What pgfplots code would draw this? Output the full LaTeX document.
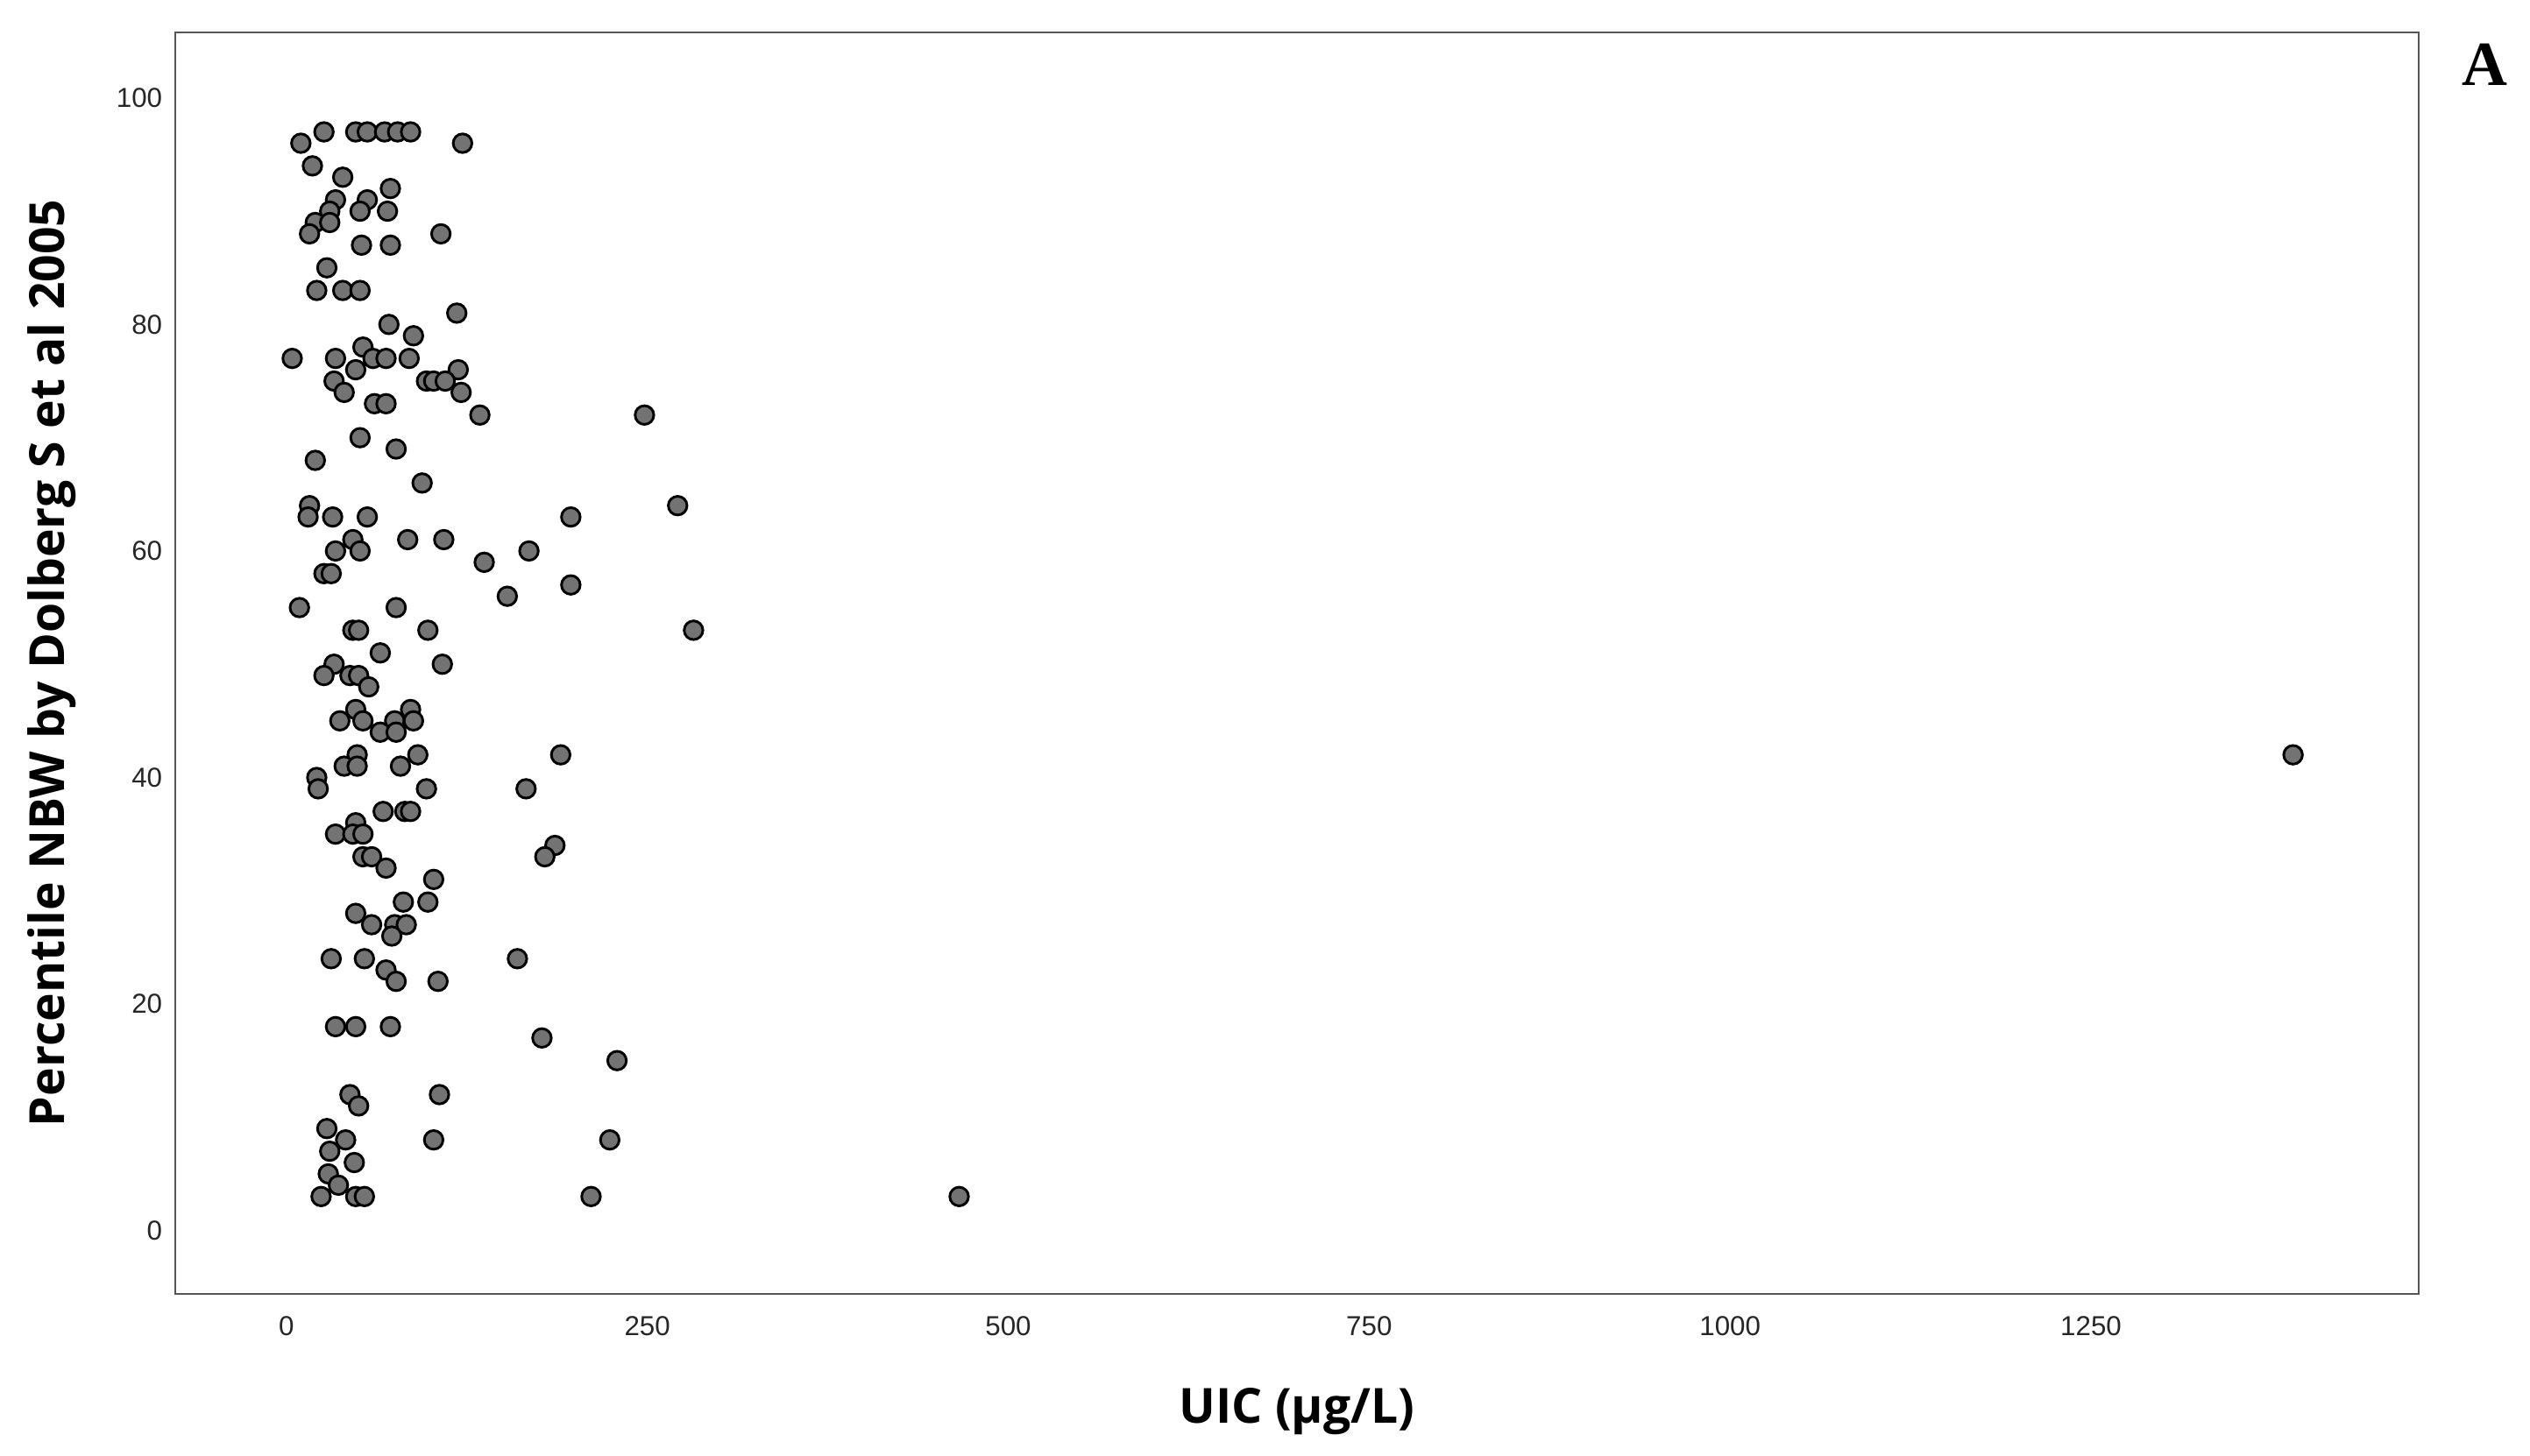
\documentclass[border=0pt]{standalone}
\usepackage{fontspec}
\setmainfont{Liberation Sans}
\newfontfamily\labfont{Open Sans}
\newfontfamily\serfont{Liberation Serif}
\usepackage{pgfplots}
\usepackage{pgfplotstable}
\pgfplotsset{compat=1.18}
\usetikzlibrary{calc}
\definecolor{framegray}{HTML}{555555}
\definecolor{markgray}{HTML}{737373}

% UIC (ug/L) vs percentile NBW
\pgfplotstableread{
uic pct
26 97
48 97
56 97
68 97
77 97
86 97
10 96
122 96
18 94
39 93
72 92
34 91
56 91
30 90
51 90
70 90
20 89
30 89
16 88
107 88
52 87
72 87
28 85
21 83
39 83
51 83
118 81
71 80
88 79
53 78
4 77
34 77
60 77
69 77
85 77
48 76
119 76
33 75
97 75
102 75
110 75
40 74
121 74
61 73
69 73
134 72
248 72
51 70
76 69
20 68
94 66
16 64
271 64
15 63
32 63
56 63
197 63
46 61
84 61
109 61
34 60
51 60
168 60
137 59
26 58
31 58
197 57
153 56
9 55
76 55
46 53
50 53
98 53
282 53
65 51
33 50
108 50
26 49
44 49
50 49
57 48
48 46
86 46
37 45
53 45
75 45
88 45
65 44
76 44
49 42
91 42
190 42
1390 42
40 41
49 41
79 41
21 40
22 39
97 39
166 39
67 37
82 37
86 37
48 36
34 35
46 35
53 35
186 34
53 33
59 33
179 33
69 32
102 31
81 29
98 29
48 28
59 27
75 27
83 27
73 26
31 24
54 24
160 24
69 23
76 22
105 22
34 18
48 18
72 18
177 17
229 15
44 12
106 12
50 11
28 9
41 8
102 8
224 8
30 7
47 6
29 5
36 4
24 3
48 3
54 3
211 3
466 3
}\uicdata

\begin{document}
\begin{tikzpicture}
\begin{axis}[
  scale only axis,
  width=695pt, height=391pt,
  xmin=-77, xmax=1477,
  ymin=-5.6, ymax=105.8,
  xtick={0,250,...,1250},
  ytick={0,20,...,100},
  major tick length=0pt,
  axis line style={framegray, line width=0.7pt},
  tick label style={font=\fontsize{8.5}{10}\selectfont, text=black!85},
  /pgf/number format/assume math mode=true,
  /pgf/number format/1000 sep={},
  xticklabel style={yshift=-3.5pt},
  yticklabel style={xshift=-0.5pt},
  xlabel={UIC (µg/L)},
  ylabel={Percentile NBW by Dolberg S et al 2005},
  label style={font=\labfont\bfseries\fontsize{15}{17}\selectfont},
  xlabel style={at={(axis description cs:0.5,0)}, anchor=center, yshift=-36.5pt},
  ylabel style={at={(axis description cs:0,0.5)}, anchor=center, rotate=0, yshift=38.3pt},
]
\addplot[only marks, mark=*, mark size=2.9pt,
  mark options={fill=markgray, draw=black, line width=0.8pt}]
  table[x=uic, y=pct] {\uicdata};
\end{axis}
\node[font=\serfont\bfseries\fontsize{19.5}{22}\selectfont, anchor=center]
  at ($(current axis.north east)+(20.5pt,-10pt)$) {A};
\pgfresetboundingbox
\path ($(current axis.south west)+(-54.3pt,-50pt)$) rectangle ($(current axis.north east)+(34.5pt,10pt)$);
\end{tikzpicture}
\end{document}
